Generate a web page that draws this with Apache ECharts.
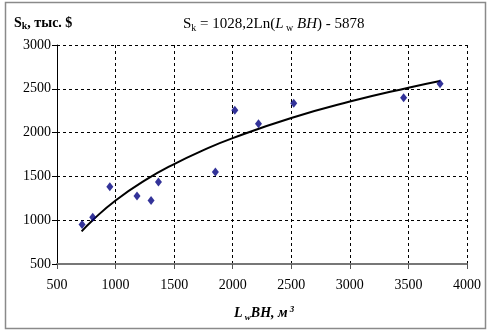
<!DOCTYPE html>
<html>
<head>
<meta charset="utf-8">
<script src="https://cdn.jsdelivr.net/npm/echarts@6/dist/echarts.min.js"></script>
<style>
  html, body { margin: 0; padding: 0; background: #fff; }
  #chart { width: 492px; height: 332px; }
</style>
</head>
<body>
<div id="chart"></div>
<script>
// измеренные точки (L_w*BH, S_k)
const pointX = [714, 805, 951, 1183, 1303, 1366, 1852, 2018, 2220, 2521, 3459, 3770]
const pointY = [951, 1034, 1383, 1277, 1224, 1436, 1550, 2255, 2102, 2334, 2398, 2557]

// линия тренда
const trendX = [710, 800, 1000, 1250, 1500, 1750, 2000, 2500, 3000, 3500, 3770]
const trendY = [872, 995, 1225, 1454, 1641, 1800, 1937, 2167, 2354, 2513, 2590]

const xTicks = [500, 1000, 1500, 2000, 2500, 3000, 3500, 4000]
const yTicks = [500, 1000, 1500, 2000, 2500, 3000]

const font = '"Liberation Serif", "Times New Roman", serif'

const chart = echarts.init(document.getElementById('chart'))

const option = {
  animation: false,
  backgroundColor: '#fff',
  graphic: [
    {
      type: 'rect',
      shape: { x: 5.5, y: 2.5, width: 480, height: 326 },
      style: { fill: 'none', stroke: '#8a8a8a', lineWidth: 1.5 },
      silent: true
    }
  ],
  title: [
    {
      text: 'S{sub|k}, тыс. $',
      left: 9,
      top: 10,
      textStyle: {
        fontFamily: font,
        fontSize: 14,
        fontWeight: 'bold',
        color: '#000',
        rich: {
          sub: { fontFamily: font, fontSize: 10, fontWeight: 'bold', verticalAlign: 'bottom', padding: [6, 0, 0, 0] }
        }
      }
    },
    {
      text: 'S{sub|k} = 1028,2Ln({i|L}{sub| w}{i| BH}) - 5878',
      left: 178,
      top: 11,
      textStyle: {
        fontFamily: font,
        fontSize: 15,
        fontWeight: 'normal',
        color: '#000',
        rich: {
          sub: { fontFamily: font, fontSize: 10, verticalAlign: 'bottom', padding: [7, 0, 0, 0] },
          i: { fontFamily: font, fontSize: 15, fontStyle: 'italic' }
        }
      }
    },
    {
      text: '{i|L}{sub| w}{i|BH, м}{sup| 3}',
      left: 229,
      top: 300,
      textStyle: {
        fontFamily: font,
        fontSize: 14,
        color: '#000',
        rich: {
          i: { fontFamily: font, fontSize: 14, fontStyle: 'italic', fontWeight: 'bold' },
          sub: { fontFamily: font, fontSize: 9, fontStyle: 'italic', fontWeight: 'bold', verticalAlign: 'bottom', padding: [8, 0, 0, 0] },
          sup: { fontFamily: font, fontSize: 9, fontStyle: 'italic', fontWeight: 'bold', verticalAlign: 'top', padding: [0, 0, 8, 0] }
        }
      }
    }
  ],
  grid: {
    left: 57,
    right: 25,
    top: 45,
    bottom: 68
  },
  xAxis: {
    type: 'value',
    min: xTicks[0],
    max: xTicks[xTicks.length - 1],
    interval: 500,
    axisLine: {
      show: true,
      onZero: false,
      lineStyle: { color: '#777', width: 2 }
    },
    axisTick: {
      show: true,
      length: 5,
      lineStyle: { color: '#555' }
    },
    axisLabel: {
      fontFamily: font,
      fontSize: 14,
      color: '#000',
      margin: 14,
      formatter: value => String(value)
    },
    splitLine: {
      show: true,
      lineStyle: { color: '#000', type: [3, 3], width: 1 }
    }
  },
  yAxis: {
    type: 'value',
    min: yTicks[0],
    max: yTicks[yTicks.length - 1],
    interval: 500,
    axisLine: {
      show: true,
      lineStyle: { color: '#000', width: 1 }
    },
    axisTick: {
      show: true,
      length: 5,
      lineStyle: { color: '#000' }
    },
    axisLabel: {
      fontFamily: font,
      fontSize: 14,
      color: '#000',
      margin: 6,
      formatter: value => String(value)
    },
    splitLine: {
      show: true,
      lineStyle: { color: '#000', type: [3, 3], width: 1 }
    }
  },
  series: [
    {
      name: 'trend',
      type: 'line',
      smooth: true,
      showSymbol: false,
      lineStyle: { color: '#000', width: 2 },
      data: trendX.map((x, i) => [x, trendY[i]]),
      z: 2
    },
    {
      name: 'points',
      type: 'scatter',
      symbol: 'diamond',
      symbolSize: [7, 9],
      itemStyle: { color: '#000080' },
      data: pointX.map((x, i) => [x, pointY[i]]),
      z: 3
    }
  ]
}

chart.setOption(option)
</script>
</body>
</html>
